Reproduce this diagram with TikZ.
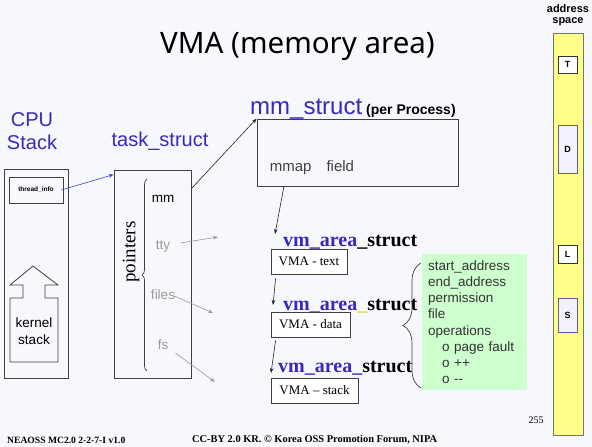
\documentclass[tikz,border=0pt]{standalone}
\usepackage{fontspec}
\setmainfont{Liberation Sans}
\newfontfamily\seriffont{Liberation Serif}
\newfontfamily\titlefont{Noto Sans}
\usetikzlibrary{positioning,arrows.meta,decorations.pathreplacing}
\definecolor{pagebg}{RGB}{247,248,253}
\definecolor{headblue}{RGB}{58,40,190}
\definecolor{linkblue}{RGB}{70,60,200}
\definecolor{notegreen}{RGB}{206,255,206}
\definecolor{baryellow}{RGB}{255,255,136}
\definecolor{slotfill}{RGB}{242,242,255}
\definecolor{slotdraw}{RGB}{100,90,170}
\definecolor{faintyellow}{RGB}{225,225,60}

\begin{document}
\begin{tikzpicture}[
  x=1pt, y=1pt,
  >={Stealth[length=5pt,width=3.6pt]},
  box/.style={draw=black!75, line width=0.8pt, inner sep=0pt},
  vmabox/.style={box, fill=white, font=\seriffont\fontsize{13}{15}\selectfont, minimum height=25pt},
  head/.style={text=headblue, font=\fontsize{20}{23}\selectfont, align=center, inner sep=0pt},
  vmlbl/.style={anchor=base west, inner sep=0pt, font=\seriffont\bfseries\fontsize{20}{22}\selectfont},
  field/.style={font=\fontsize{13.5}{15}\selectfont, inner sep=0pt},
  dimfield/.style={field, text=black!40},
  ptr/.style={->, line width=0.6pt, draw=black!85},
  gptr/.style={->, line width=0.6pt, draw=black!40},
  brc/.style={decorate, line width=0.7pt, draw=black!75},
  slot/.style={draw=black!80, line width=0.8pt, fill=white, minimum width=19pt, inner sep=0pt,
               font=\bfseries\fontsize{9}{10}\selectfont},
  slotwide/.style={slot, draw=slotdraw, fill=slotfill},
  note/.style={fill=notegreen, align=left, text=black!80, font=\fontsize{13.5}{16.2}\selectfont,
               text width=93pt, inner xsep=6pt, minimum height=136pt},
  foot/.style={anchor=west, inner sep=0pt, font=\seriffont\bfseries\fontsize{9.6}{11}\selectfont},
]
\fill[pagebg] (0,0) rectangle (592,-447);
\useasboundingbox (0,0) rectangle (592,-447);

% ---- title ----
\node[anchor=base, inner sep=0pt, font=\titlefont\fontsize{29.5}{33}\selectfont] (title) at (297.5,-53) {VMA (memory area)};

% ---- CPU stack (left) ----
\node[head] (cpuhead) at (32,-131) {CPU\\Stack};
\node[box, minimum width=64pt, minimum height=209pt] (cpu) at (36,-273.5) {};
\node[box, minimum width=54pt, minimum height=26pt, font=\bfseries\fontsize{6.5}{8}\selectfont] (tinfo) at (36,-190) {thread\_info};
\draw[line width=0.8pt, draw=black!75] (33,-266) -- (58,-285) -- (45,-285) -- (45,-298) -- (58,-298) -- (58,-362)
      -- (10,-362) -- (10,-298) -- (23,-298) -- (23,-285) -- (10,-285) -- cycle;
\node[align=center, inner sep=0pt, font=\fontsize{13.5}{17}\selectfont] (kstack) at (34,-331) {kernel\\stack};

% ---- task_struct ----
\node[head] (taskhead) at (160,-141) {task\_struct};
\node[box, minimum width=77pt, minimum height=208pt] (task) at (152.5,-274) {};
\draw[brc, decoration={brace, amplitude=5pt}] (147,-371) -- (147,-179);
\node[rotate=90, inner sep=0pt, font=\seriffont\fontsize{19}{21}\selectfont] (ptrs) at (131,-252) {pointers};
\node[field] (mm) at (163,-199) {mm};
\node[dimfield] (tty) at (163,-247) {tty};
\node[dimfield] (files) at (163,-295) {files};
\node[dimfield] (fs) at (163,-345) {fs};
\coordinate (ttyend) at (218,-237);
\coordinate (filesend) at (213,-313);
\coordinate (fsend) at (215,-382);
\draw[gptr] ([xshift=10pt,yshift=4pt]tty.east) -- (ttyend);
\draw[gptr] ([xshift=-1pt,yshift=-1pt]files.east) -- (filesend);
\draw[gptr] ([xshift=7pt,yshift=-8pt]fs.east) -- (fsend);
\draw[->, line width=0.6pt, draw=linkblue] ([xshift=-2pt]tinfo.east) -- ([yshift=-5pt]task.north west);

% ---- mm_struct ----
\node[anchor=base west, inner sep=0pt] (mmhead) at (250,-114)
      {\textcolor{headblue}{\fontsize{24}{26}\selectfont mm\_struct}\hspace{4pt}{\bfseries\fontsize{14}{16}\selectfont(per Process)}};
\node[box, minimum width=201pt, minimum height=67pt] (mmbox) at (357.5,-152.5) {};
\node[inner sep=0pt, text=black!75, font=\fontsize{15}{17}\selectfont] (mmap) at (312,-168) {mmap\hspace{15pt}field};
\draw[ptr] ([yshift=-19pt]task.north east) -- (mmbox.north west);

% ---- vm_area_struct chain ----
\node[vmlbl] (vmhead1) at (283,-246) {\textcolor{headblue}{vm\_area}\_struct};
\node[vmabox, minimum width=76pt] (vmtext) at (309,-261.5) {VMA - text};
\node[vmlbl] (vmhead2) at (283,-310) {\textcolor{headblue}{vm\_area}\textcolor{faintyellow}{\_}struct};
\node[vmabox, minimum width=79pt] (vmdata) at (310.5,-324.5) {VMA - data};
\node[vmlbl] (vmhead3) at (278,-372) {\textcolor{headblue}{vm\_area\_}struct};
\node[vmabox, minimum width=87pt] (vmstack) at (314.5,-390.5) {VMA – stack};
\coordinate (mmapfoot) at (284,-186);
\coordinate (textin) at (275,-234);
\coordinate (datain) at (273,-305);
\coordinate (stackin) at (271,-373);
\draw[ptr] (mmapfoot) -- (textin);
\draw[ptr] ([xshift=5pt,yshift=-4pt]vmtext.south west) -- (datain);
\draw[ptr] ([xshift=5pt,yshift=-3pt]vmdata.south west) -- (stackin);

% ---- vma fields ----
\node[note, anchor=north west] (vmafields) at (422,-254)
      {start\_address\\end\_address\\permission\\file\\operations\\\hspace*{14pt}o page fault\\\hspace*{14pt}o ++\\\hspace*{14pt}o -{}-};
\draw[brc, decoration={brace, amplitude=18pt, aspect=0.5}] (421,-388) -- (421,-263);

% ---- address space (right) ----
\node[align=center, inner sep=0pt, font=\bfseries\fontsize{11}{11}\selectfont] (ashead) at (568,-15) {address\\space};
\node[draw=black!55, line width=1pt, fill=baryellow, minimum width=30pt, minimum height=402pt, inner sep=0pt] (abar) at (568,-234) {};
\node[slot, minimum height=17pt] (segT) at (567.5,-64.5) {T};
\node[slotwide, minimum height=48pt] (segD) at (567.5,-149) {D};
\node[slot, minimum height=18pt] (segL) at (567.5,-254) {L};
\node[slotwide, minimum height=34pt] (segS) at (567.5,-315) {S};

% ---- footer ----
\node[inner sep=0pt, font=\seriffont\fontsize{10}{12}\selectfont] (pageno) at (536,-420) {255};
\node[foot] (footid) at (7,-440) {NEAOSS MC2.0 2-2-7-I v1.0};
\node[foot, font=\seriffont\bfseries\fontsize{10.4}{12}\selectfont] (footcc) at (192,-440) {CC-BY 2.0 KR. \textcopyright\ Korea OSS Promotion Forum, NIPA};
\end{tikzpicture}
\end{document}
